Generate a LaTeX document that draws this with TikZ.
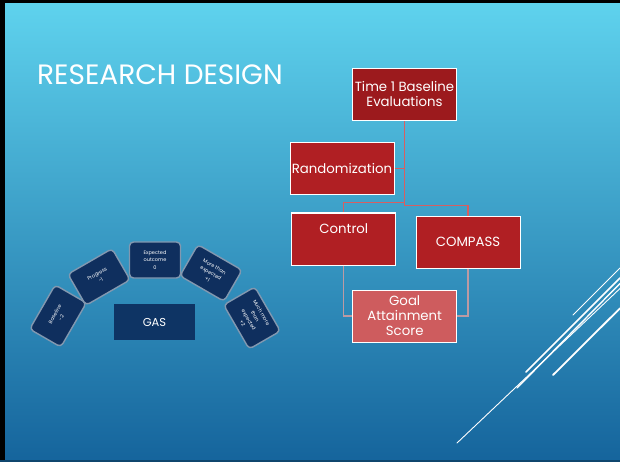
\documentclass[tikz,border=0pt]{standalone}
\usepackage{fontspec}
\setmainfont{Poppins}
\usetikzlibrary{calc}
\definecolor{bgtop}{HTML}{5FD3EE}
\definecolor{bgmid}{HTML}{3BA2CD}
\definecolor{bgbot}{HTML}{15649C}
\definecolor{redA}{HTML}{9C1A1D}
\definecolor{redB}{HTML}{B01F23}
\definecolor{redC}{HTML}{CE5C5E}
\definecolor{connA}{HTML}{D65F62}
\definecolor{connB}{HTML}{BC9AA3}
\definecolor{navy}{HTML}{0F2F5E}
\definecolor{gasnavy}{HTML}{0E3464}
\definecolor{boxedge}{HTML}{8298B0}
\begin{document}
\begin{tikzpicture}[x=1pt,y=-1pt,
  redbox/.style={draw=white, line width=1pt, text=white, align=center,
    minimum width=104pt, minimum height=52pt, inner sep=1pt,
    font=\fontsize{13.3}{15}\selectfont},
  conn/.style={draw=connA, line width=1.3pt},
  connlow/.style={draw=connB, line width=1.3pt},
  gasbox/.style={draw=boxedge, line width=1.4pt, rounded corners=4pt, fill=navy,
    text=white, align=center, minimum width=51pt, minimum height=36pt, inner sep=1pt,
    font=\fontsize{5}{7.3}\selectfont},
  deco/.style={draw=white, line cap=round}
]
\useasboundingbox (0,0) rectangle (620,462);
\shade[top color=bgtop, middle color=bgmid, bottom color=bgbot] (0,0) rectangle (620,462);
\fill[black] (0,0) rectangle (620,3);
\fill[black] (0,0) rectangle (5,462);
\fill[bgbot!70!black] (0,460) rectangle (620,462);

% title
\node[anchor=west, text=white, inner sep=0, font=\fontsize{28}{32}\selectfont] (title) at (37,75) {RESEARCH DESIGN};

% red flow chart
\node[redbox, fill=redA] (t1) at (404.5,94.5) {Time 1 Baseline\\Evaluations};
\node[redbox, fill=redB] (rand) at (342,168.7) {Randomization};
\node[redbox, fill=redB] (ctrl) at (343.8,239) {};
\node[text=white, inner sep=0, font=\fontsize{13.3}{15}\selectfont] (ctrltext) at (343.8,229) {Control};
\node[redbox, fill=redB] (comp) at (468,242.3) {COMPASS};
\node[redbox, fill=redC] (goal) at (404.7,316) {Goal\\Attainment\\Score};

\coordinate (busL) at (343.8,202.5);
\coordinate (busR) at (468,205.5);
\draw[conn] (t1.south) -- (t1.south |- busR) -- (busR) -- (comp.north);
\draw[conn] (t1.south |- busL) -- (busL) -- (ctrl.north);
\draw[conn] (rand.east) -- (rand.east -| t1.south);
\draw[connlow] (ctrl.south) |- (goal.west);
\draw[connlow] (comp.south) |- (goal.east);

% GAS arc
\node[gasbox, rotate=60] (b1) at (58,316) {Baseline\\-2};
\node[gasbox, rotate=30] (b2) at (99,277) {Progress\\-1};
\node[gasbox] (b3) at (155,260) {Expected\\outcome\\0};
\node[gasbox, rotate=-30] (b4) at (211,273) {More than\\expected\\+1};
\node[gasbox, rotate=-60] (b5) at (252,318) {Much more\\than\\expected\\+2};
\node[fill=gasnavy, text=white, minimum width=81pt, minimum height=36pt, inner sep=0,
  font=\fontsize{11.5}{14}\selectfont] (gas) at (154.5,322) {GAS};

% decorative lines
\draw[deco, line width=0.9pt] (573,315) -- (620,268);
\draw[deco, line width=1.6pt] (526,372) -- (620,278);
\draw[deco, line width=1.4pt] (517,388) -- (620,283.5);
\draw[deco, line width=0.9pt] (457,443) -- (620,288.5);
\draw[deco, line width=1.8pt] (553,375) -- (620,308.3);
\end{tikzpicture}
\end{document}
